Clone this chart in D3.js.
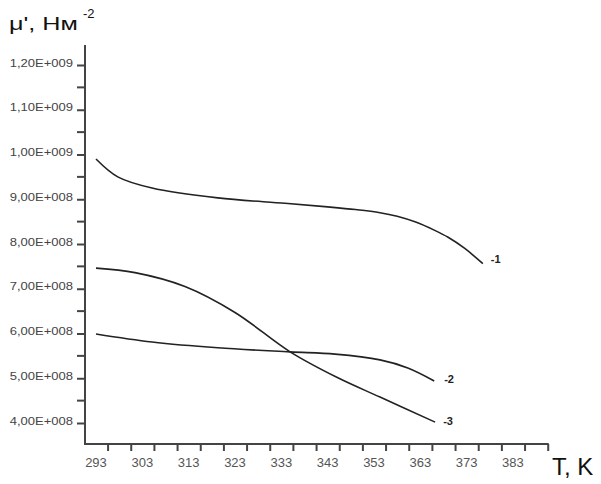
<!DOCTYPE html>
<html>
<head>
<meta charset="utf-8">
<script src="https://cdn.jsdelivr.net/npm/d3@7"></script>
<style>
  body { margin: 0; background: #fff; }
  svg { display: block; font-family: "Liberation Sans", Arial, sans-serif; }
</style>
</head>
<body>
<div id="chart"></div>
<script>
// values (T in K, mu' in N/m^2)
const t1 = [293, 297.7, 305.1, 319.3, 333.8, 343.0, 349.0, 354.3, 358.0, 362.0, 366.0, 369.0, 372.6, 376.5];
const v1 = [9.90e8, 9.50e8, 9.25e8, 9.03e8, 8.91e8, 8.83e8, 8.77e8, 8.70e8, 8.62e8, 8.49e8, 8.31e8, 8.15e8, 7.90e8, 7.56e8];

const t2 = [293, 305.1, 319.3, 334.9, 344.6, 354.3, 360.3, 366.0];
const v2 = [5.99e8, 5.81e8, 5.68e8, 5.59e8, 5.54e8, 5.41e8, 5.23e8, 4.94e8];

const t3 = [293, 301.4, 312.2, 323.0, 334.9, 345.2, 354.3, 366.2];
const v3 = [7.46e8, 7.36e8, 7.05e8, 6.47e8, 5.59e8, 5.01e8, 4.58e8, 4.02e8];

const seriesNames = ['-1', '-2', '-3'];

const yTicks = [4e8, 5e8, 6e8, 7e8, 8e8, 9e8, 1.0e9, 1.1e9, 1.2e9];
const yTickLabels = ['4,00E+008', '5,00E+008', '6,00E+008', '7,00E+008', '8,00E+008',
                     '9,00E+008', '1,00E+009', '1,10E+009', '1,20E+009'];
const yMinor = [4.5e8, 5.5e8, 6.5e8, 7.5e8, 8.5e8, 9.5e8, 1.05e9, 1.15e9];

const xLabels = [293, 303, 313, 323, 333, 343, 353, 363, 373, 383];
const xTicks = d3.range(295.5, 391, 5);

const W = 601, H = 484;
const axisX = 85, axisY = 444, axisTop = 45;

const svg = d3.select('#chart').append('svg')
  .attr('width', W)
  .attr('height', H);

const x = d3.scaleLinear().domain([293, 393]).range([96, 559.3]);
const y = d3.scaleLinear().domain([4e8, 1.2e9]).range([423, 65]);

// stretch text horizontally like the scanned original
function stretch(sel, k) {
  sel.each(function() {
    const w = this.getComputedTextLength();
    d3.select(this).attr('textLength', w * k).attr('lengthAdjust', 'spacingAndGlyphs');
  });
}

// y axis
const gy = svg.append('g').attr('transform', `translate(${axisX},0)`)
  .call(d3.axisLeft(y).tickValues(yTicks).tickFormat((d, i) => yTickLabels[i]).tickSize(8).tickPadding(4));
gy.select('.domain').remove();
gy.selectAll('.tick line').attr('stroke', '#444').attr('stroke-width', 2);
gy.selectAll('.tick text')
  .attr('fill', '#444')
  .attr('font-size', 10.5)
  .attr('dy', '0.1em')
  .attr('font-family', '"Liberation Sans", Arial, sans-serif')
  .call(stretch, 1.24);

svg.append('g').selectAll('line').data(yMinor).join('line')
  .attr('x1', axisX - 8).attr('x2', axisX)
  .attr('y1', d => y(d)).attr('y2', d => y(d))
  .attr('stroke', '#444').attr('stroke-width', 2);

// x axis
const gx = svg.append('g').attr('transform', `translate(0,${axisY})`)
  .call(d3.axisBottom(x).tickValues(xTicks).tickFormat('').tickSize(7));
gx.select('.domain').remove();
gx.selectAll('.tick line').attr('stroke', '#444').attr('stroke-width', 2);

svg.append('g').selectAll('text').data(xLabels).join('text')
  .attr('x', d => x(d))
  .attr('y', 467)
  .attr('text-anchor', 'middle')
  .attr('font-size', 13)
  .attr('fill', '#555')
  .text(d => d);

// axis lines
svg.append('line')
  .attr('x1', axisX).attr('x2', axisX).attr('y1', axisTop).attr('y2', axisY + 1)
  .attr('stroke', '#444').attr('stroke-width', 2);
svg.append('line')
  .attr('x1', axisX - 1).attr('x2', x(390.5) + 1).attr('y1', axisY).attr('y2', axisY)
  .attr('stroke', '#444').attr('stroke-width', 2);

// curves
const series = [
  { t: t1, v: v1, dx: 8, dy: -1 },
  { t: t2, v: v2, dx: 10, dy: 2 },
  { t: t3, v: v3, dx: 8, dy: 3 }
];

const line = d3.line()
  .x(d => x(d[0]))
  .y(d => y(d[1]))
  .curve(d3.curveCatmullRom.alpha(0.5));

series.forEach((s, i) => {
  const pts = s.t.map((t, j) => [t, s.v[j]]);
  svg.append('path')
    .datum(pts)
    .attr('d', line)
    .attr('fill', 'none')
    .attr('stroke', '#222')
    .attr('stroke-width', 1.6);

  const last = pts[pts.length - 1];
  svg.append('text')
    .attr('x', x(last[0]) + s.dx)
    .attr('y', y(last[1]) + s.dy)
    .attr('font-size', 11)
    .attr('font-weight', 'bold')
    .attr('fill', '#222')
    .text(seriesNames[i]);
});

// axis titles
const title = svg.append('text')
  .attr('x', 9)
  .attr('y', 30)
  .attr('font-size', 18)
  .attr('fill', '#111');
title.append('tspan').text('μ\', Нм');
svg.append('text')
  .attr('x', 83)
  .attr('y', 18)
  .attr('font-size', 13)
  .attr('fill', '#111')
  .text('-2');
title.call(stretch, 1.4);

svg.append('text')
  .attr('x', 552)
  .attr('y', 475)
  .attr('font-size', 24)
  .attr('fill', '#111')
  .text('T, K');
</script>
</body>
</html>
